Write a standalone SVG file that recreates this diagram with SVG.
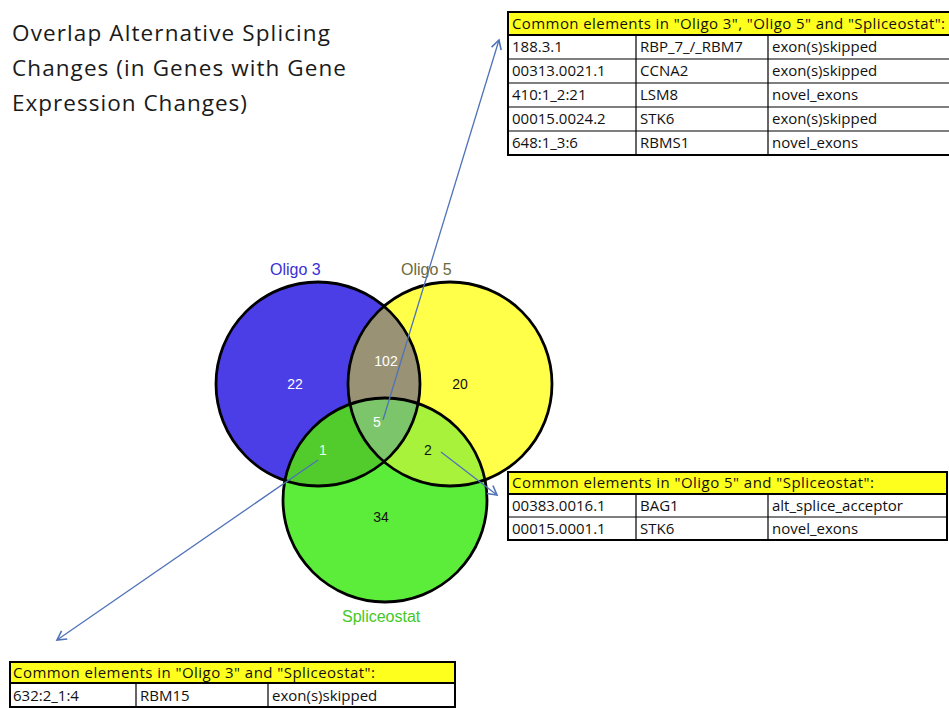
<svg xmlns="http://www.w3.org/2000/svg" width="949" height="708" viewBox="0 0 949 708">
  <style>
    .title { font-family: "Open Sans", "Liberation Sans", sans-serif; font-size: 22.5px; fill: #1a1a1a; }
    .set { font-family: "Liberation Sans", Arial, sans-serif; font-size: 16px; }
    .num { font-family: "Liberation Sans", Arial, sans-serif; font-size: 14px; text-anchor: middle; }
    .ring { fill: none; stroke: #000; stroke-width: 2.8; }
    .cell { font-family: "Open Sans", "Liberation Sans", sans-serif; font-size: 15px; fill: #111; }
    .hdr { fill: #ffff1e; }
    .grid { fill: none; stroke: #000; stroke-width: 1.2; }
    .frame { fill: none; stroke: #000; stroke-width: 2; }
    .link { stroke: #4f72b8; stroke-width: 1.3; fill: none; marker-end: url(#chev); }
  </style>
  <defs>
    <marker id="chev" viewBox="0 0 12 12" refX="10" refY="6" markerWidth="12" markerHeight="12" markerUnits="userSpaceOnUse" orient="auto">
      <path d="M1,1 L10,6 L1,11" fill="none" stroke="#4f72b8" stroke-width="1.6"/>
    </marker>
    <clipPath id="cA"><circle cx="318" cy="384" r="102"/></clipPath>
    <clipPath id="cB"><circle cx="450" cy="384" r="102"/></clipPath>
    <clipPath id="cC"><circle cx="385" cy="500" r="102"/></clipPath>
  </defs>

  <rect width="949" height="708" fill="#fff"/>

  <g id="title">
    <text class="title" x="12" y="41" textLength="318">Overlap Alternative Splicing</text>
    <text class="title" x="12" y="76" textLength="334">Changes (in Genes with Gene</text>
    <text class="title" x="12" y="111" textLength="235">Expression Changes)</text>
  </g>

  <!-- Venn regions -->
  <g id="oligo3">
    <circle cx="318" cy="384" r="102" fill="#4c3ee6"/>
  </g>
  <g id="oligo5">
    <circle cx="450" cy="384" r="102" fill="#ffff4a"/>
  </g>
  <g id="spliceostat">
    <circle cx="385" cy="500" r="102" fill="#5ced3a"/>
  </g>
  <g id="overlaps">
    <g clip-path="url(#cA)"><circle cx="450" cy="384" r="102" fill="#9a9274"/></g>
    <g clip-path="url(#cA)"><circle cx="385" cy="500" r="102" fill="#52cb2c"/></g>
    <g clip-path="url(#cB)"><circle cx="385" cy="500" r="102" fill="#a8f23c"/></g>
    <g clip-path="url(#cA)"><g clip-path="url(#cB)"><circle cx="385" cy="500" r="102" fill="#7cc56a"/></g></g>
  </g>
  <g id="rings">
    <circle class="ring" cx="318" cy="384" r="102"/>
    <circle class="ring" cx="450" cy="384" r="102"/>
    <circle class="ring" cx="385" cy="500" r="102"/>
  </g>

  <g id="set-labels">
    <text class="set" x="270" y="275" fill="#3a2fd6">Oligo 3</text>
    <text class="set" x="401" y="275" fill="#6a6a3c">Oligo 5</text>
    <text class="set" x="342" y="622" fill="#44c826">Spliceostat</text>
  </g>

  <g id="counts">
    <text class="num" x="295" y="389" fill="#fff">22</text>
    <text class="num" x="386" y="366" fill="#fff">102</text>
    <text class="num" x="460" y="389" fill="#111">20</text>
    <text class="num" x="377" y="427" fill="#fff">5</text>
    <text class="num" x="323" y="455" fill="#e8ffe0">1</text>
    <text class="num" x="428" y="455" fill="#111">2</text>
    <text class="num" x="381" y="522" fill="#111">34</text>
  </g>

  <g id="connectors">
    <line class="link" x1="383" y1="420" x2="499" y2="40"/>
    <line class="link" x1="441" y1="452" x2="497" y2="495"/>
    <line class="link" x1="318" y1="460" x2="57" y2="640"/>
  </g>

  <!-- Table: all three sets -->
  <g id="table-all">
    <rect class="hdr" x="508" y="12" width="441" height="23"/>
    <path class="grid" d="M508,35 H949 M508,59 H949 M508,83 H949 M508,107 H949 M508,131 H949 M636,35 V155 M768,35 V155"/>
    <path class="frame" d="M949,12 H508 V155 H949 M508,35 H949"/>
    <text class="cell" x="512" y="29" textLength="433">Common elements in "Oligo 3", "Oligo 5" and "Spliceostat":</text>
    <text class="cell" x="512" y="52">188.3.1</text>
    <text class="cell" x="640" y="52">RBP_7_/_RBM7</text>
    <text class="cell" x="772" y="52">exon(s)skipped</text>
    <text class="cell" x="512" y="76">00313.0021.1</text>
    <text class="cell" x="640" y="76">CCNA2</text>
    <text class="cell" x="772" y="76">exon(s)skipped</text>
    <text class="cell" x="512" y="100">410:1_2:21</text>
    <text class="cell" x="640" y="100">LSM8</text>
    <text class="cell" x="772" y="100">novel_exons</text>
    <text class="cell" x="512" y="124">00015.0024.2</text>
    <text class="cell" x="640" y="124">STK6</text>
    <text class="cell" x="772" y="124">exon(s)skipped</text>
    <text class="cell" x="512" y="148">648:1_3:6</text>
    <text class="cell" x="640" y="148">RBMS1</text>
    <text class="cell" x="772" y="148">novel_exons</text>
  </g>

  <!-- Table: Oligo 5 and Spliceostat -->
  <g id="table-o5-splice">
    <rect class="hdr" x="508" y="472" width="439" height="22"/>
    <path class="grid" d="M508,517 H947 M636,494 V540 M768,494 V540"/>
    <rect class="frame" x="508" y="472" width="439" height="68"/>
    <path class="frame" d="M508,494 H947"/>
    <text class="cell" x="512" y="488" textLength="362">Common elements in "Oligo 5" and "Spliceostat":</text>
    <text class="cell" x="512" y="511">00383.0016.1</text>
    <text class="cell" x="640" y="511">BAG1</text>
    <text class="cell" x="772" y="511">alt_splice_acceptor</text>
    <text class="cell" x="512" y="534">00015.0001.1</text>
    <text class="cell" x="640" y="534">STK6</text>
    <text class="cell" x="772" y="534">novel_exons</text>
  </g>

  <!-- Table: Oligo 3 and Spliceostat -->
  <g id="table-o3-splice">
    <rect class="hdr" x="10" y="662" width="445" height="21"/>
    <path class="grid" d="M136,683 V707 M268,683 V707"/>
    <rect class="frame" x="10" y="662" width="445" height="45"/>
    <path class="frame" d="M10,683 H455"/>
    <text class="cell" x="13" y="678" textLength="362">Common elements in "Oligo 3" and "Spliceostat":</text>
    <text class="cell" x="13" y="701">632:2_1:4</text>
    <text class="cell" x="140" y="701">RBM15</text>
    <text class="cell" x="272" y="701">exon(s)skipped</text>
  </g>
</svg>
